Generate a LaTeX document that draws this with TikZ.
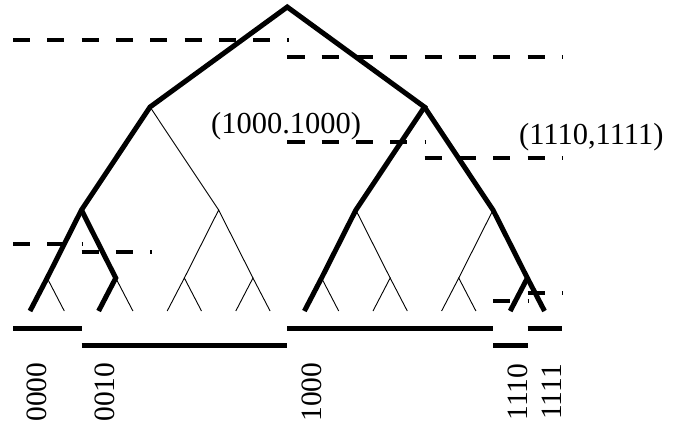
\documentclass[tikz,border=0pt]{standalone}
\usepackage{fontspec}
\setmainfont{Liberation Serif}
\begin{document}
\begin{tikzpicture}[x=1pt,y=-1pt,
  thinedge/.style={line width=0.9pt},
  thickedge/.style={line width=5pt,line join=miter},
  rangeline/.style={line width=4.4pt,dash pattern=on 17.15pt off 17.15pt},
  bar/.style={line width=5pt},
  lbl/.style={font=\fontsize{30.5}{32}\selectfont,inner sep=0pt},
  leaflbl/.style={font=\fontsize{29.5}{31}\selectfont,inner sep=0pt,rotate=90}]
\useasboundingbox (0,0) rectangle (687,426);
% tree nodes
\foreach \i in {0,...,15} \coordinate (l\i) at ({30+34.3*\i},311);
\foreach \i in {0,...,7} \coordinate (a\i) at ({47.15+68.6*\i},278);
\foreach \i in {0,...,3} \coordinate (b\i) at ({81.45+137.2*\i},210);
\coordinate (c0) at (150.05,107);
\coordinate (c1) at (424.45,107);
\coordinate (r) at (287.25,7);
% thin edges
\foreach \k in {0,...,7}{
  \pgfmathtruncatemacro{\p}{2*\k}\pgfmathtruncatemacro{\q}{2*\k+1}
  \draw[thinedge] (l\p) -- (a\k) -- (l\q);}
\foreach \k in {0,...,3}{
  \pgfmathtruncatemacro{\p}{2*\k}\pgfmathtruncatemacro{\q}{2*\k+1}
  \draw[thinedge] (a\p) -- (b\k) -- (a\q);}
\draw[thinedge] (b0) -- (c0) -- (b1);
\draw[thinedge] (b2) -- (c1) -- (b3);
% thick paths
\draw[thickedge] (l0) -- (a0) -- (b0) -- (c0) -- (r) -- (c1) -- (b2) -- (a4) -- (l8);
\draw[thickedge] (b0) -- (a1) -- (l2);
\draw[thickedge] (c1) -- (b3) -- (a7) -- (l14);
\draw[thickedge] (a7) -- (l15);
% dashed range lines
\foreach \y/\s/\e in {40/0/8, 57/8/16, 142/8/12, 158/12/16, 244/0/2, 252/2/4, 301/14/15, 293/15/16}
  \draw[rangeline] ({13+34.3*\s},\y) -- ({13+34.3*\e+1.5},\y);
% bars
\foreach \y/\s/\e in {328/0/2, 328/8/14, 328/15/16, 345/2/8, 345/14/15}
  \draw[bar] ({13+34.3*\s},\y) -- ({13+34.3*\e},\y);
% labels
\node[lbl,anchor=base west] (t1) at (211,133) {(1000.1000)};
\node[lbl,anchor=base west] (t2) at (519,144) {(1110,1111)};
\node[leaflbl] (n0) at (37,392) {0000};
\node[leaflbl] (n2) at (105,392) {0010};
\node[leaflbl] (n8) at (312,392) {1000};
\node[leaflbl] (n14) at (518,392) {1110};
\node[leaflbl] (n15) at (552,392) {1111};
\end{tikzpicture}
\end{document}
